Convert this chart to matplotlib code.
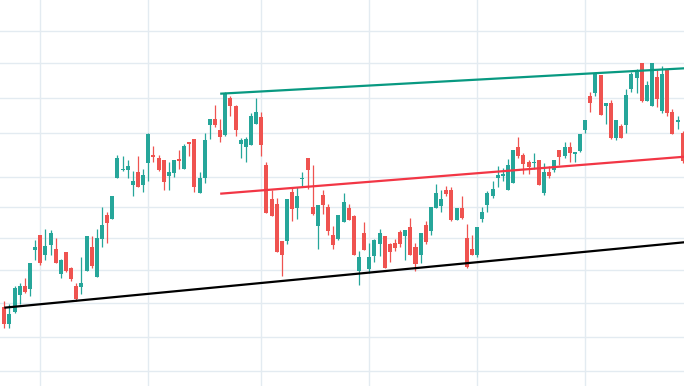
import numpy as np
import matplotlib.pyplot as plt

# OHLC values (arbitrary price units, no axis labels shown)
opens = [79, 62, 74, 91, 100, 97, 136, 151, 131, 141, 137, 112, 134, 118, 100, 99, 115, 139, 109, 147,
         171, 167, 208, 216, 216, 201, 214, 201, 223, 231, 228, 226, 210, 213, 227, 217, 244, 247, 193, 208,
         261, 267, 256, 251, 288, 280, 242, 239, 241, 262, 269, 221, 187, 182, 145, 145, 194, 178, 207, 228,
         179, 160, 191, 179, 151, 147, 164, 178, 170, 115, 153, 117, 130, 142, 150, 142, 143, 154, 150, 159,
         139, 131, 161, 155, 178, 180, 196, 196, 166, 178, 148, 137, 131, 167, 181, 190, 208, 210, 196, 203,
         239, 231, 224, 223, 226, 193, 214, 216, 236, 230, 239, 232, 235, 256, 290, 293, 311, 280, 283, 248,
         260, 261, 297, 308, 323, 285, 280, 309, 275, 317, 274, 264, 253]
highs = [85, 82, 100, 103, 108, 123, 146, 151, 157, 156, 148, 127, 134, 119, 103, 129, 150, 150, 157, 179,
         174, 190, 231, 230, 226, 215, 230, 217, 253, 240, 231, 226, 224, 226, 236, 242, 244, 247, 214, 253,
         267, 281, 267, 294, 290, 281, 248, 249, 273, 288, 274, 224, 196, 188, 145, 187, 199, 199, 214, 228,
         221, 181, 196, 182, 160, 171, 193, 182, 171, 135, 164, 143, 147, 157, 150, 143, 147, 156, 156, 168,
         143, 153, 165, 179, 202, 196, 200, 199, 178, 190, 162, 151, 159, 179, 195, 205, 220, 218, 227, 236,
         249, 233, 226, 233, 226, 223, 220, 226, 236, 244, 244, 234, 252, 266, 294, 314, 311, 283, 286, 266,
         262, 297, 314, 317, 323, 305, 323, 316, 320, 317, 277, 270, 255]
lows = [58, 58, 73, 82, 93, 90, 126, 121, 126, 131, 123, 108, 114, 105, 85, 92, 115, 118, 109, 139,
        143, 167, 208, 215, 208, 190, 199, 194, 205, 224, 215, 196, 196, 209, 217, 217, 230, 194, 193, 203,
        247, 259, 244, 250, 270, 250, 228, 224, 241, 262, 230, 173, 170, 134, 110, 142, 165, 167, 200, 197,
        171, 137, 172, 151, 137, 146, 164, 166, 131, 101, 136, 113, 124, 130, 118, 124, 135, 139, 126, 131,
        115, 123, 142, 151, 178, 174, 190, 165, 166, 167, 118, 131, 129, 164, 174, 188, 199, 205, 196, 203,
        228, 212, 212, 217, 201, 191, 208, 214, 221, 228, 224, 224, 234, 253, 274, 290, 271, 262, 247, 246,
        248, 253, 294, 293, 284, 285, 280, 279, 273, 270, 252, 257, 223]
closes = [62, 72, 98, 100, 94, 123, 139, 123, 140, 153, 123, 126, 115, 107, 87, 103, 150, 120, 148, 161,
          163, 190, 228, 217, 220, 205, 199, 211, 252, 229, 216, 204, 214, 226, 225, 240, 242, 199, 208, 246,
          267, 261, 249, 293, 280, 256, 246, 247, 270, 274, 241, 173, 170, 134, 131, 187, 177, 190, 208, 216,
          172, 181, 181, 155, 141, 171, 184, 166, 131, 129, 136, 129, 146, 153, 118, 134, 138, 142, 156, 131,
          122, 153, 144, 179, 193, 187, 192, 166, 178, 168, 119, 131, 159, 174, 193, 197, 211, 212, 221, 236,
          230, 222, 219, 224, 201, 214, 210, 226, 229, 239, 233, 234, 252, 266, 283, 312, 271, 283, 248, 266,
          248, 291, 312, 314, 285, 301, 323, 287, 312, 273, 252, 266, 225]

# trend lines: (candle index, price) anchor pairs
upper_line = [(42, 292.3), (127, 316.2)]
middle_line = [(42, 192.3), (127, 227.1)]
lower_line = [(0, 78.3), (127, 141.1)]

# month separators (candle index) and price grid levels
month_ticks = [7, 28, 50, 71, 92, 113]
price_grid = [355.3, 322.7, 287.7, 252.7, 208.7, 178.7, 147.7, 116, 82.7, 49.3, 15]

up_color = "#26a69a"
down_color = "#ef5350"

o = np.array(opens, dtype=float)
h = np.array(highs, dtype=float)
l = np.array(lows, dtype=float)
c = np.array(closes, dtype=float)
idx = np.arange(len(o))
colors = np.where(c >= o, up_color, down_color)

fig = plt.figure(figsize=(6.84, 3.86), dpi=100)
ax = fig.add_axes([0, 0, 1, 1])

# grid
for gx in month_ticks:
    ax.axvline(gx, color="#e3ebf1", lw=1.0, zorder=0)
for gy in price_grid:
    ax.axhline(gy, color="#e3ebf1", lw=1.0, zorder=0)

# candles
ax.vlines(idx, l, h, colors=colors, lw=0.9, zorder=2)
bottoms = np.minimum(o, c)
heights = np.maximum(np.abs(c - o), 1.2)
ax.bar(idx, heights, bottom=bottoms, width=0.78, color=colors, linewidth=0, zorder=3)


# trend lines, extended to the right edge
def draw_trend(points, color):
    (x0, y0), (x1, y1) = points
    slope = (y1 - y0) / (x1 - x0)
    x_end = 140
    ax.plot([x0, x_end], [y0, y0 + slope * (x_end - x0)], color=color, lw=1.6,
            solid_capstyle="butt", zorder=4)


draw_trend(upper_line, "#089981")
draw_trend(middle_line, "#f23645")
draw_trend(lower_line, "#000000")

ax.set_xlim(-0.84, 132.24)
ax.set_ylim(0, 386)
ax.set_xticks([])
ax.set_yticks([])
for s in ax.spines.values():
    s.set_visible(False)

fig.savefig("out.png", dpi=100, facecolor="white")
